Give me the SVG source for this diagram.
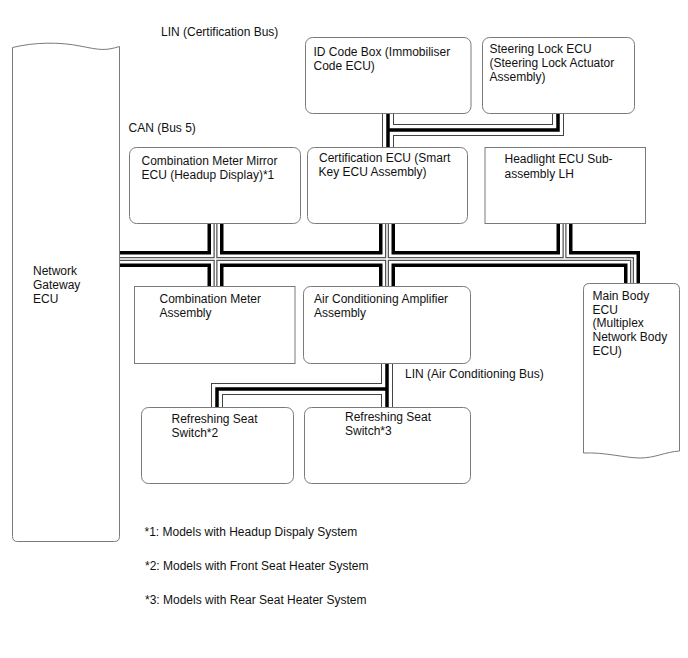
<svg xmlns="http://www.w3.org/2000/svg" xmlns:xlink="http://www.w3.org/1999/xlink" width="688" height="658" viewBox="0 0 688 658">
<style>
  .box { fill: #fff; stroke: #7a7a7a; stroke-width: 1; }
  text { font-family: "Liberation Sans", Arial, sans-serif; font-size: 12px; fill: #111; }
  .w { fill: none; stroke-linejoin: miter; stroke-linecap: butt; }
  .c1 { stroke: #000; stroke-width: 16; }
  .c2 { stroke: #fff; stroke-width: 9; }
  .c3 { stroke: #555; stroke-width: 4; }
  .c4 { stroke: #fff; stroke-width: 1.5; }
  .l1 { stroke: #444; stroke-width: 12; }
  .l2 { stroke: #fff; stroke-width: 10; }
  .l3 { stroke: #000; stroke-width: 3.5; }
</style>
<defs>
  <path id="canBus" d="M119.5 259 H632 V283.5"/>
  <path id="canV1" d="M215.5 223 V287"/>
  <path id="canV2" d="M387 224 V287"/>
  <path id="canV3" d="M564.5 223.5 V259"/>
  <path id="linC1" d="M388 113.5 V148"/>
  <path id="linC2" d="M388 130 H558 V113.5"/>
  <path id="linA1" d="M387 363.5 V407.5"/>
  <path id="linA2" d="M387 389 H217 V407.5"/>
</defs>

<g id="connectors">
  <g class="w c1"><use xlink:href="#canBus"/><use xlink:href="#canV1"/><use xlink:href="#canV2"/><use xlink:href="#canV3"/></g>
  <g class="w c2"><use xlink:href="#canBus"/><use xlink:href="#canV1"/><use xlink:href="#canV2"/><use xlink:href="#canV3"/></g>
  <g class="w c3"><use xlink:href="#canBus"/><use xlink:href="#canV1"/><use xlink:href="#canV2"/><use xlink:href="#canV3"/></g>
  <g class="w c4"><use xlink:href="#canBus"/><use xlink:href="#canV1"/><use xlink:href="#canV2"/><use xlink:href="#canV3"/></g>
  <g class="w l1"><use xlink:href="#linC1"/><use xlink:href="#linC2"/><use xlink:href="#linA1"/><use xlink:href="#linA2"/></g>
  <g class="w l2"><use xlink:href="#linC1"/><use xlink:href="#linC2"/><use xlink:href="#linA1"/><use xlink:href="#linA2"/></g>
  <g class="w l3"><use xlink:href="#linC1"/><use xlink:href="#linC2"/><use xlink:href="#linA1"/><use xlink:href="#linA2"/></g>
</g>

<g id="labels">
  <text x="161" y="36">LIN (Certification Bus)</text>
  <text x="128.5" y="131.5">CAN (Bus 5)</text>
  <text x="405" y="378">LIN (Air Conditioning Bus)</text>
  <text x="144.5" y="536">*1: Models with Headup Dispaly System</text>
  <text x="145" y="569.5">*2: Models with Front Seat Heater System</text>
  <text x="145" y="603.5">*3: Models with Rear Seat Heater System</text>
</g>

<g id="network-gateway-ecu">
  <path class="box" d="M12.5 47.5 C35 42 60 42 80 46 S105 51 119.5 46.5 V536.5 Q119.5 541.5 114.5 541.5 H17.5 Q12.5 541.5 12.5 536.5 Z"/>
  <text x="33" y="275">Network</text>
  <text x="33" y="289">Gateway</text>
  <text x="33" y="303">ECU</text>
</g>

<g id="id-code-box">
  <rect class="box" x="305.5" y="37.5" width="165.5" height="76" rx="7"/>
  <text x="313.5" y="56">ID Code Box (Immobiliser</text>
  <text x="313.5" y="70">Code ECU)</text>
</g>

<g id="steering-lock-ecu">
  <rect class="box" x="482.5" y="37.5" width="152" height="76" rx="7"/>
  <text x="489.5" y="52.5">Steering Lock ECU</text>
  <text x="489.5" y="66.5">(Steering Lock Actuator</text>
  <text x="489.5" y="80.5">Assembly)</text>
</g>

<g id="combination-meter-mirror-ecu">
  <rect class="box" x="129.5" y="147.5" width="171" height="76" rx="7"/>
  <text x="141.5" y="165">Combination Meter Mirror</text>
  <text x="141.5" y="179">ECU (Headup Display)*1</text>
</g>

<g id="certification-ecu">
  <rect class="box" x="307.5" y="147.5" width="160" height="76" rx="7"/>
  <text x="319" y="162">Certification ECU (Smart</text>
  <text x="318.5" y="176">Key ECU Assembly)</text>
</g>

<g id="headlight-ecu">
  <rect class="box" x="485" y="147.5" width="160.5" height="76"/>
  <text x="504.5" y="162.5">Headlight ECU Sub-</text>
  <text x="504.5" y="177.5">assembly LH</text>
</g>

<g id="combination-meter-assembly">
  <rect class="box" x="134.5" y="286.5" width="160.5" height="77"/>
  <text x="159.5" y="302.5">Combination Meter</text>
  <text x="159.5" y="316.5">Assembly</text>
</g>

<g id="air-conditioning-amplifier">
  <rect class="box" x="303.5" y="286.5" width="167" height="77" rx="7"/>
  <text x="314" y="302.5">Air Conditioning Amplifier</text>
  <text x="314" y="316.5">Assembly</text>
</g>

<g id="main-body-ecu">
  <path class="box" d="M583.5 453 V289.5 Q583.5 283.5 589.5 283.5 H673.5 Q679.5 283.5 679.5 289.5 V451 C665 452 655 458 640 458 S605 452 583.5 453 Z"/>
  <text x="592.5" y="300">Main Body</text>
  <text x="592.5" y="313.5">ECU</text>
  <text x="592.5" y="327">(Multiplex</text>
  <text x="592.5" y="341">Network Body</text>
  <text x="592.5" y="354.5">ECU)</text>
</g>

<g id="refreshing-seat-switch-2">
  <rect class="box" x="141.5" y="407.5" width="152" height="76" rx="7"/>
  <text x="171.5" y="422.5">Refreshing Seat</text>
  <text x="171.5" y="436.5">Switch*2</text>
</g>

<g id="refreshing-seat-switch-3">
  <rect class="box" x="304.5" y="407.5" width="166" height="76" rx="7"/>
  <text x="345" y="421">Refreshing Seat</text>
  <text x="345" y="435">Switch*3</text>
</g>
</svg>
